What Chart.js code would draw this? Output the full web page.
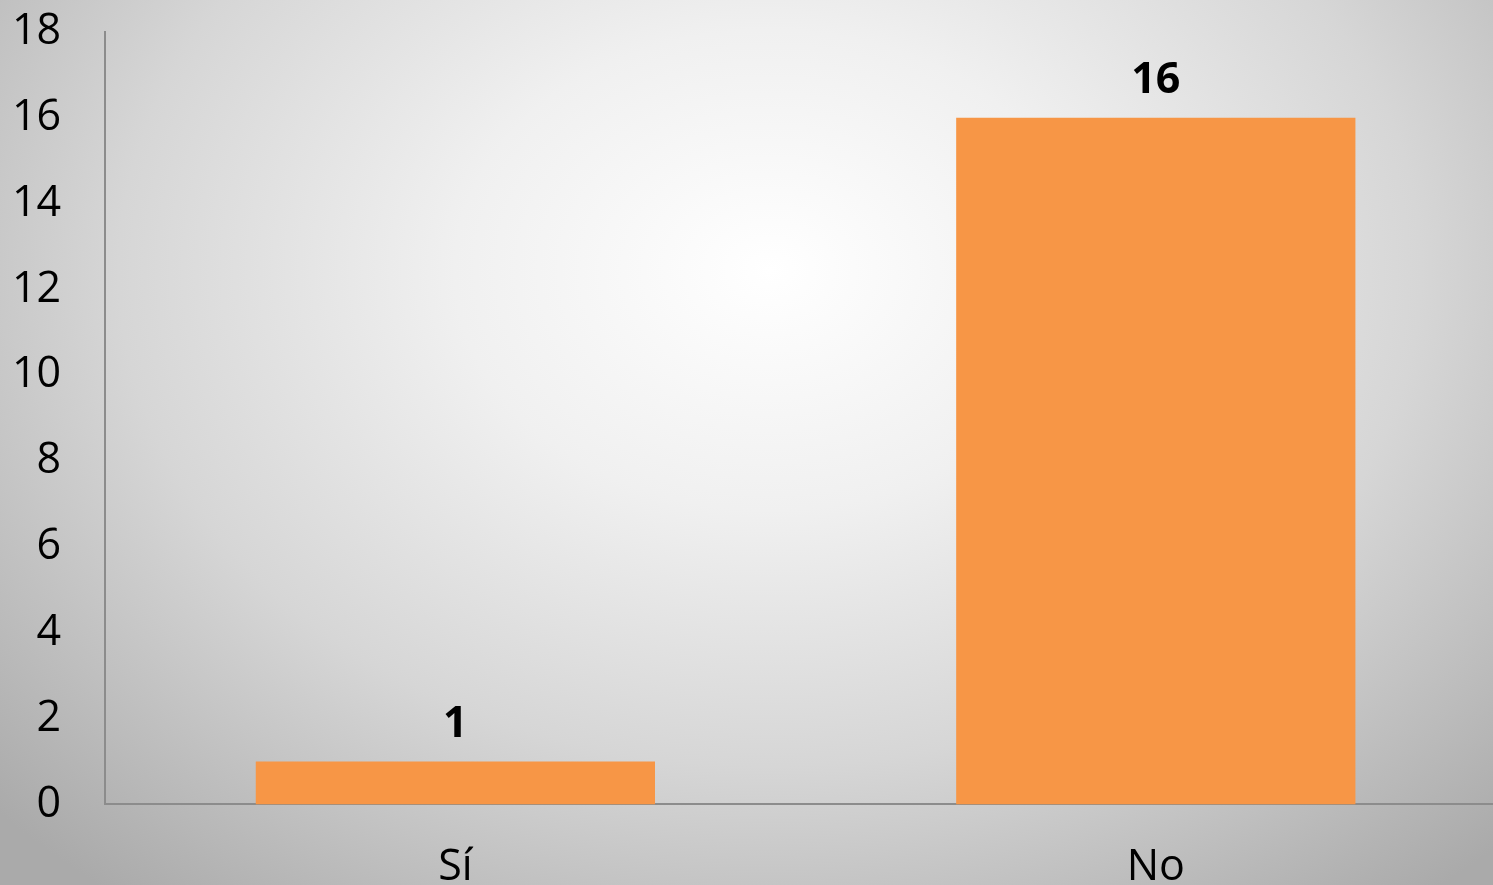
<!DOCTYPE html>
<html>
<head>
<meta charset="utf-8">
<script src="https://cdn.jsdelivr.net/npm/chart.js@4.4.1/dist/chart.umd.min.js"></script>
<style>
    html, body { margin: 0; padding: 0; overflow: hidden; width: 1493px; height: 885px; }
    body {
        background: radial-gradient(ellipse 1050px 800px at 770px 270px, #ffffff 0%, #f0f0f0 30%, #d6d6d6 62%, #aaaaaa 100%);
    }
    #wrap { position: absolute; left: 0; top: -38px; width: 1510px; height: 970px; }
</style>
</head>
<body>
<div id="wrap"><canvas id="barChart"></canvas></div>
<script>
var categories = ["Sí", "No"];
var values = [1, 16];
var yTicks = [0, 2, 4, 6, 8, 10, 12, 14, 16, 18];

// draws the value above each bar
var valueLabels = {
    id: "valueLabels",
    afterDatasetsDraw: function (chart) {
        var ctx = chart.ctx;
        var meta = chart.getDatasetMeta(0);
        ctx.save();
        ctx.font = "bold 43px 'Open Sans'";
        ctx.fillStyle = "#000";
        ctx.textAlign = "center";
        ctx.textBaseline = "bottom";
        meta.data.forEach(function (bar, i) {
            ctx.fillText(values[i], bar.x, bar.y - 15);
        });
        ctx.restore();
    }
};

var ctx = document.getElementById("barChart").getContext("2d");
new Chart(ctx, {
    type: "bar",
    data: {
        labels: categories,
        datasets: [{
            data: values,
            backgroundColor: "#F79646",
            borderWidth: 0,
            barPercentage: 0.57,
            categoryPercentage: 1
        }]
    },
    options: {
        responsive: true,
        maintainAspectRatio: false,
        animation: false,
        layout: { padding: { top: 8, right: 4, left: -32, bottom: 0 } },
        plugins: { legend: { display: false }, tooltip: { enabled: false } },
        scales: {
            x: {
                grid: { display: false, drawTicks: false },
                border: { display: true, color: "#8c8c8c", width: 2 },
                ticks: { color: "#000", padding: 38, font: { family: "Open Sans", size: 43 } }
            },
            y: {
                min: 0,
                max: 18,
                afterBuildTicks: function (axis) {
                    axis.ticks = yTicks.map(function (v) { return { value: v }; });
                },
                grid: { display: false, drawTicks: false },
                border: { display: true, color: "#8c8c8c", width: 2 },
                ticks: { color: "#000", padding: 44, font: { family: "Open Sans", size: 43 } }
            }
        }
    },
    plugins: [valueLabels]
});
</script>
</body>
</html>
